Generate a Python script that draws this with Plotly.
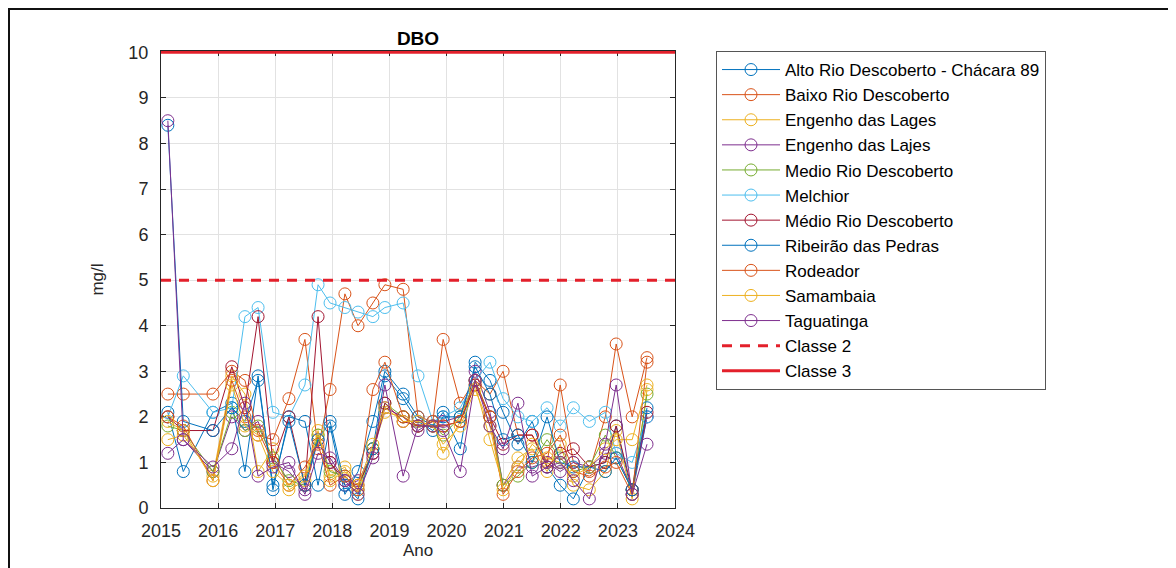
import plotly.graph_objects as go

# Sampling dates (decimal years)
DATES = [2015.12, 2015.39, 2015.91, 2016.24, 2016.47, 2016.70, 2016.96, 2017.24, 2017.52,
         2017.75, 2017.96, 2018.22, 2018.45, 2018.71, 2018.92, 2019.24, 2019.50, 2019.76,
         2019.94, 2020.24, 2020.50, 2020.76, 2020.99, 2021.25, 2021.50, 2021.76, 2021.99,
         2022.22, 2022.50, 2022.78, 2022.97, 2023.25, 2023.51]

ALTO_RIO_DESCOBERTO = [2.1, 0.8, 2.1, 2.3, 0.8, 2.9, 0.4, 2.0, 1.9, 0.5, 1.8, 0.3, 0.8, 1.9, 3.0, 2.5, 2.0,
                       1.8, 2.1, 1.3, 3.2, 2.8, 2.1, 1.4, 1.9, 0.9, 0.5, 0.2, 0.9, 1.0, 1.8, 0.3, 2.0]
BAIXO_RIO_DESCOBERTO = [2.5, 2.5, 2.5, 3.0, 2.8, 1.6, 1.5, 2.4, 3.7, 1.3, 2.6, 4.7, 4.0, 4.5, 4.9, 4.8, 2.0,
                        1.9, 3.7, 2.3, 2.8, 2.5, 3.0, 1.6, 1.6, 1.0, 2.7, 1.0, 0.8, 2.0, 3.6, 2.0, 3.3]
ENGENHO_LAGES = [1.5, 1.6, 0.7, 2.9, 2.5, 0.8, 1.3, 0.4, 0.6, 1.6, 0.7, 0.9, 0.3, 1.3, 2.1, 2.0, 1.8,
                 1.9, 1.2, 1.9, 2.7, 1.5, 0.5, 1.1, 1.3, 0.8, 1.4, 0.5, 0.4, 0.8, 1.7, 0.2, 2.6]
ENGENHO_LAJES = [1.2, 1.5, 0.8, 2.0, 1.7, 1.9, 1.0, 0.8, 0.4, 1.5, 1.0, 0.5, 0.6, 1.2, 2.2, 2.0, 1.7,
                 1.9, 1.9, 2.0, 3.0, 2.1, 0.5, 0.9, 0.9, 1.0, 0.8, 1.0, 0.9, 1.2, 1.2, 0.4, 2.0]
MEDIO_RIO_DESCOBERTO_A = [1.8, 1.7, 0.8, 2.1, 1.7, 1.8, 1.1, 0.6, 0.5, 1.6, 0.8, 0.7, 0.4, 1.3, 2.3, 2.0, 1.8,
                          1.8, 1.6, 2.0, 2.8, 2.0, 0.5, 0.7, 1.0, 1.5, 1.1, 0.8, 0.9, 1.6, 1.1, 0.4, 2.5]
MELCHIOR = [2.0, 2.9, 2.1, 2.2, 4.2, 4.4, 2.1, 2.0, 2.7, 4.9, 4.5, 4.4, 4.3, 4.2, 4.4, 4.5, 2.9,
            1.9, 2.0, 2.2, 2.8, 3.2, 2.4, 2.0, 1.9, 2.2, 1.8, 2.2, 1.9, 2.1, 1.2, 1.0, 2.0]
MEDIO_RIO_DESCOBERTO_B = [2.0, 1.7, 1.7, 3.1, 2.2, 4.2, 1.0, 2.0, 0.5, 4.2, 1.0, 0.6, 0.5, 1.2, 2.3, 1.9, 1.8,
                          1.8, 1.8, 1.9, 2.7, 2.0, 1.4, 1.6, 1.6, 0.9, 1.2, 1.3, 0.9, 1.0, 1.8, 0.4, 2.1]
RIBEIRAO_PEDRAS = [8.4, 1.9, 1.7, 2.2, 1.9, 2.8, 0.5, 1.9, 0.5, 1.5, 1.9, 0.5, 0.2, 1.3, 2.9, 2.4, 1.9,
                   1.7, 2.0, 2.0, 3.1, 2.5, 1.5, 1.6, 1.0, 2.0, 1.0, 0.9, 0.9, 0.8, 1.1, 0.4, 2.2]
RODEADOR = [2.0, 1.8, 0.6, 2.8, 2.0, 1.7, 1.0, 0.5, 0.9, 1.4, 0.5, 0.7, 0.4, 2.6, 3.2, 2.0, 1.8,
            1.9, 1.8, 1.9, 2.8, 2.0, 0.3, 0.8, 1.1, 1.2, 1.6, 0.8, 0.7, 0.9, 1.0, 0.3, 3.2]
SAMAMBAIA = [1.9, 1.7, 0.6, 2.7, 1.8, 1.6, 0.8, 0.5, 0.7, 1.7, 0.6, 0.8, 0.5, 1.4, 2.2, 1.9, 1.9,
             1.8, 1.4, 1.8, 2.6, 1.8, 0.4, 0.9, 1.4, 1.1, 1.0, 0.7, 0.9, 1.3, 1.5, 1.5, 2.7]
TAGUATINGA = [8.5, 1.5, 0.9, 1.3, 2.3, 0.7, 0.9, 1.0, 0.3, 1.2, 1.1, 0.6, 0.3, 1.1, 2.7, 0.7, 1.8,
              1.8, 1.7, 0.8, 2.8, 1.8, 1.3, 2.3, 0.7, 0.9, 1.0, 0.6, 0.2, 1.4, 2.7, 0.3, 1.4]

SERIES_NAMES = ["Alto Rio Descoberto - Chácara 89", "Baixo Rio Descoberto", "Engenho das Lages",
                "Engenho das Lajes", "Medio Rio Descoberto", "Melchior", "Médio Rio Descoberto",
                "Ribeirão das Pedras", "Rodeador", "Samambaia", "Taguatinga"]
SERIES_VALUES = [ALTO_RIO_DESCOBERTO, BAIXO_RIO_DESCOBERTO, ENGENHO_LAGES, ENGENHO_LAJES,
                 MEDIO_RIO_DESCOBERTO_A, MELCHIOR, MEDIO_RIO_DESCOBERTO_B, RIBEIRAO_PEDRAS,
                 RODEADOR, SAMAMBAIA, TAGUATINGA]

LIMIT_NAMES = ["Classe 2", "Classe 3"]
LIMIT_VALUES = [5, 10]
X_RANGE = [2015, 2024]
Y_RANGE = [0, 10.03]
X_TICKS = [2015, 2016, 2017, 2018, 2019, 2020, 2021, 2022, 2023, 2024]
Y_TICKS = [0, 1, 2, 3, 4, 5, 6, 7, 8, 9, 10]

COLORS = ["#0072BD", "#D95319", "#EDB120", "#7E2F8E", "#77AC30", "#4DBEEE", "#A2142F"]
RED = "#E3202B"
FONT = "Liberation Sans, Arial, sans-serif"
AX = "#262626"

# page body has an 8px margin; figure is sized/placed to compensate
W, H = 1168, 560
PL, PR, PT, PB = 153, 667, 43, 500   # plot area in figure pixels

fig = go.Figure()
for i, (name, vals) in enumerate(zip(SERIES_NAMES, SERIES_VALUES)):
    c = COLORS[i % len(COLORS)]
    fig.add_trace(go.Scatter(
        x=DATES, y=vals, name=name, mode="lines+markers",
        line=dict(color=c, width=1),
        marker=dict(symbol="circle-open", size=12, color=c, line=dict(width=1, color=c)),
    ))

for name, val, dash in zip(LIMIT_NAMES, LIMIT_VALUES, ["10px,8px", "solid"]):
    fig.add_trace(go.Scatter(
        x=X_RANGE, y=[val, val], name=name, mode="lines",
        line=dict(color=RED, width=3, dash=dash),
    ))

axis_common = dict(
    showline=True, linecolor=AX, linewidth=1, mirror="allticks",
    ticks="inside", ticklen=5, tickcolor=AX, tickwidth=1,
    showgrid=True, gridcolor="#E2E2E2", gridwidth=1, zeroline=False,
    tickfont=dict(family=FONT, size=18, color=AX), layer="below traces",
)

pw, ph = PR - PL, PB - PT
fig.update_layout(
    width=W, height=H,
    margin=dict(l=PL, r=W - PR, t=PT, b=H - PB, autoexpand=False),
    paper_bgcolor="white", plot_bgcolor="white",
    font=dict(family=FONT, color=AX),
    title=dict(text="<b>DBO</b>", x=0.5, xref="paper", xanchor="center",
               y=1 - 30 / H, yref="container", yanchor="middle",
               font=dict(family=FONT, size=19, color="#000000")),
    xaxis=dict(range=X_RANGE, tickvals=X_TICKS,
               title=dict(text="Ano", font=dict(family=FONT, size=17, color=AX), standoff=2),
               ticklabelstandoff=6, **axis_common),
    yaxis=dict(range=Y_RANGE, tickvals=Y_TICKS,
               title=dict(text="mg/l", font=dict(family=FONT, size=17, color=AX), standoff=20),
               ticklabelstandoff=8, **axis_common),
    legend=dict(x=(716 - 161) / pw, xanchor="left", y=1.0, yanchor="top",
                bgcolor="white", bordercolor="#555555", borderwidth=1,
                font=dict(family=FONT, size=17, color="#000000"),
                itemwidth=58, tracegroupgap=0),
    showlegend=True,
)

# outer frame of the figure
fig.add_shape(type="rect", xref="paper", yref="paper",
              x0=(1 - PL) / pw, x1=(1166 - PL) / pw,
              y0=(PB - 620) / ph, y1=(PB - 1) / ph,
              line=dict(color="#111111", width=2), fillcolor="rgba(0,0,0,0)", layer="below")

fig.write_html("out.html")
